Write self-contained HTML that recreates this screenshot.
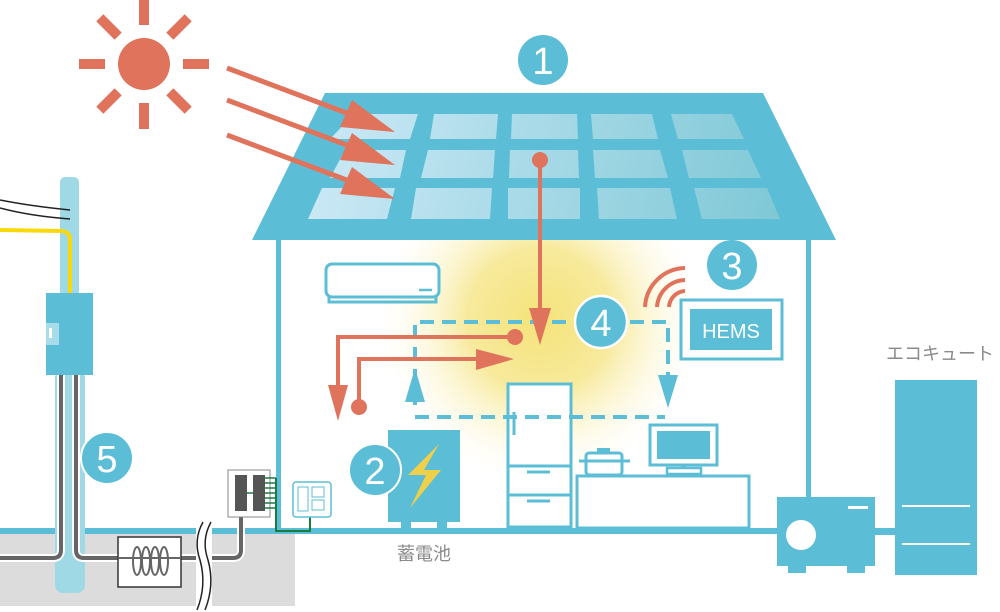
<!DOCTYPE html>
<html><head><meta charset="utf-8"><style>
html,body{margin:0;padding:0;background:#fff;}
svg{display:block;}
text{font-family:"Liberation Sans","Noto Sans CJK JP",sans-serif;}
</style></head><body>
<svg width="1000" height="612" viewBox="0 0 1000 612" xmlns="http://www.w3.org/2000/svg">
<defs>
<radialGradient id="glow" cx="540" cy="320" r="160" gradientUnits="userSpaceOnUse">
<stop offset="0" stop-color="#f5e37a"/>
<stop offset="0.45" stop-color="#f7ea9c"/>
<stop offset="1" stop-color="#fffbe8" stop-opacity="0"/>
</radialGradient>
<linearGradient id="cell" x1="300" y1="110" x2="780" y2="220" gradientUnits="userSpaceOnUse">
<stop offset="0" stop-color="#cfeaf7"/>
<stop offset="1" stop-color="#7fc8d6"/>
</linearGradient>
</defs>
<!-- ground -->
<rect x="0" y="534" width="295" height="72" fill="#dcdcdc"/>
<!-- glow -->
<circle cx="540" cy="320" r="165" fill="url(#glow)"/>
<!-- sun -->
<g fill="#df735c">
<circle cx="144" cy="64" r="26"/>
<rect x="139" y="0" width="10" height="25"/>
<rect x="139" y="103" width="10" height="26"/>
<rect x="79" y="59" width="26" height="10"/>
<rect x="183" y="59" width="26" height="10"/>
<rect x="96" y="22" width="26" height="10" transform="rotate(45 109 27)"/>
<rect x="166" y="22" width="26" height="10" transform="rotate(-45 179 27)"/>
<rect x="96" y="96" width="26" height="10" transform="rotate(-45 109 101)"/>
<rect x="166" y="96" width="26" height="10" transform="rotate(45 179 101)"/>
</g>
<!-- roof -->
<polygon points="325,93 763,93 836,240 252,240" fill="#5bbed6"/>
<g fill="url(#cell)">
<polygon points="354,114 418,114 410,139 330,139"/>
<polygon points="434,114 498,114 496,139 430,139"/>
<polygon points="512,114 577,114 578,139 511,139"/>
<polygon points="591,114 652,114 658,139 593,139"/>
<polygon points="671,114 732,114 744,139 678,139"/>
<polygon points="345,150 406,150 400,178 330,178"/>
<polygon points="428,150 495,150 493,178 421,178"/>
<polygon points="510,150 578,150 579,178 509,178"/>
<polygon points="593,150 660,150 668,178 595,178"/>
<polygon points="682,150 748,150 761,178 689,178"/>
<polygon points="322,188 395,188 387,219 308,219"/>
<polygon points="416,188 492,188 490,219 411,219"/>
<polygon points="508,188 580,188 580,219 508,219"/>
<polygon points="597,188 670,188 677,219 599,219"/>
<polygon points="694,188 767,188 780,219 702,219"/>
</g>
<!-- sun arrows -->
<g stroke="#df735c" stroke-width="5" fill="#df735c">
<line x1="227" y1="68" x2="360" y2="118"/>
<line x1="227" y1="100" x2="360" y2="150"/>
<line x1="227" y1="135" x2="360" y2="185"/>
<polygon stroke="none" points="395,132 340,127 352,100"/>
<polygon stroke="none" points="395,165 340,160 352,133"/>
<polygon stroke="none" points="395,199 340,194 352,167"/>
</g>
<!-- circle 1 -->
<circle cx="543" cy="60" r="25" fill="#5bbed6"/>
<text x="543" y="74" font-size="38" fill="#fff" text-anchor="middle">1</text>
<!-- walls -->
<rect x="276" y="240" width="5" height="290" fill="#5bbed6"/>
<rect x="806" y="240" width="5" height="258" fill="#5bbed6"/>
<rect x="0" y="528" width="780" height="6" fill="#5bbed6"/>
<!-- pole -->
<rect x="60" y="177" width="19" height="200" rx="5" fill="#a0d9e6"/>
<rect x="55" y="370" width="30" height="223" rx="8" fill="#a0d9e6"/>
<path d="M0,200 Q30,206 70,210 M0,208 Q30,216 70,219" stroke="#222" stroke-width="1.5" fill="none"/>
<path d="M0,230 L62,231 Q70,232 70,240 L70,293" stroke="#f9d90a" stroke-width="4" fill="none"/>
<rect x="46" y="293" width="47" height="82" fill="#5bbed6"/>
<rect x="46" y="323" width="13" height="22" fill="#a8dcea"/>
<rect x="49" y="328" width="3" height="10" fill="#fff"/>
<!-- cables -->
<g stroke="#fff" stroke-width="8" fill="none">
<path d="M61,375 L61,550 Q61,558 53,558 L0,558"/>
<path d="M76,375 L76,550 Q76,558 84,558 L233,558 Q241,558 241,550 L241,510"/>
</g>
<g stroke="#666" stroke-width="4" fill="none">
<path d="M61,375 L61,550 Q61,558 53,558 L0,558"/>
<path d="M76,375 L76,550 Q76,558 84,558 L233,558 Q241,558 241,550 L241,510"/>
</g>
<rect x="118" y="537" width="63" height="50" fill="#fff" stroke="#333" stroke-width="1.5"/>
<g stroke="#666" stroke-width="2" fill="none">
<line x1="118" y1="558" x2="181" y2="558"/>
<ellipse cx="137" cy="561" rx="4" ry="14"/><ellipse cx="146" cy="561" rx="4" ry="14"/>
<ellipse cx="155" cy="561" rx="4" ry="14"/><ellipse cx="164" cy="561" rx="4" ry="14"/>
</g>
<rect x="196" y="520" width="16" height="92" fill="#fff"/>
<path d="M203,522 Q193,540 200,560 Q207,585 197,610 M211,522 Q201,540 208,560 Q215,585 205,610" stroke="#222" stroke-width="1.5" fill="none"/>
<!-- breaker -->
<rect x="228" y="470" width="42" height="47" fill="#fff" stroke="#888" stroke-width="1"/>
<rect x="235" y="475" width="12" height="36" fill="#555"/>
<rect x="253" y="475" width="12" height="36" fill="#555"/>
<line x1="247" y1="493" x2="253" y2="493" stroke="#1a7a40" stroke-width="1.5"/>
<g stroke="#1a7a40" stroke-width="1.5">
<line x1="265" y1="478" x2="276" y2="478"/><line x1="265" y1="483" x2="276" y2="483"/>
<line x1="265" y1="488" x2="276" y2="488"/><line x1="265" y1="493" x2="276" y2="493"/>
<line x1="265" y1="498" x2="276" y2="498"/><line x1="265" y1="503" x2="276" y2="503"/>
<line x1="265" y1="508" x2="276" y2="508"/>
</g>
<path d="M276,478 L276,531 L310,531 L310,517" stroke="#1a7a40" stroke-width="2" fill="none"/>
<rect x="293" y="482" width="38" height="35" rx="3" fill="#fff" stroke="#5bbed6" stroke-width="1.5"/>
<rect x="298" y="487" width="10" height="24" fill="none" stroke="#5bbed6" stroke-width="1"/>
<rect x="312" y="487" width="12" height="10" fill="none" stroke="#5bbed6" stroke-width="1"/>
<rect x="312" y="500" width="12" height="10" fill="none" stroke="#5bbed6" stroke-width="1"/>
<!-- circle 5 -->
<circle cx="107" cy="458" r="26" fill="#5bbed6" stroke="#fff" stroke-width="2"/>
<text x="107" y="472" font-size="38" fill="#fff" text-anchor="middle">5</text>
<!-- AC -->
<rect x="326" y="264" width="113" height="33" rx="6" fill="#fff" stroke="#5bbed6" stroke-width="3"/>
<path d="M329,297 L329,302 L436,302 L436,297" fill="none" stroke="#5bbed6" stroke-width="3"/>
<line x1="419" y1="290" x2="432" y2="290" stroke="#5bbed6" stroke-width="2.5"/>
<!-- fridge -->
<rect x="508" y="384" width="63" height="143" fill="#fff" stroke="#5bbed6" stroke-width="3"/>
<line x1="508" y1="466" x2="571" y2="466" stroke="#5bbed6" stroke-width="3"/>
<line x1="508" y1="495" x2="571" y2="495" stroke="#5bbed6" stroke-width="3"/>
<line x1="514" y1="412" x2="514" y2="435" stroke="#5bbed6" stroke-width="3"/>
<line x1="527" y1="472" x2="550" y2="472" stroke="#5bbed6" stroke-width="3"/>
<line x1="527" y1="501" x2="550" y2="501" stroke="#5bbed6" stroke-width="3"/>
<!-- counter -->
<rect x="577" y="476" width="172" height="52" fill="#fff" stroke="#5bbed6" stroke-width="3"/>
<!-- pot -->
<rect x="586" y="453" width="36" height="22" rx="3" fill="#fff" stroke="#5bbed6" stroke-width="3"/>
<line x1="579" y1="461" x2="630" y2="461" stroke="#5bbed6" stroke-width="3"/>
<rect x="597" y="448" width="13" height="5" fill="#5bbed6"/>
<!-- TV -->
<rect x="650" y="425" width="67" height="40" fill="#fff" stroke="#5bbed6" stroke-width="3"/>
<rect x="657" y="431" width="53" height="28" fill="#5bbed6"/>
<rect x="681" y="465" width="5" height="5" fill="#5bbed6"/>
<rect x="667" y="468" width="34" height="6" fill="#fff" stroke="#5bbed6" stroke-width="2.5"/>
<!-- battery -->
<rect x="388" y="430" width="72" height="92" fill="#5bbed6"/>
<rect x="401" y="518" width="10" height="10" fill="#5bbed6"/>
<rect x="437" y="518" width="10" height="10" fill="#5bbed6"/>
<polygon points="439,444 408,475 426,475 410,508 441,470 424,470" fill="#eed04a"/>
<circle cx="375" cy="470" r="26" fill="#5bbed6" stroke="#fff" stroke-width="2"/>
<text x="375" y="484" font-size="38" fill="#fff" text-anchor="middle">2</text>
<text x="424" y="560" font-size="18" fill="#8a8a8a" text-anchor="middle">蓄電池</text>
<!-- dashed blue -->
<g stroke="#5bbed6" stroke-width="4" fill="none" stroke-dasharray="14,8">
<path d="M415,405 L415,322 L575,322"/>
<path d="M630,322 L668,322 L668,380"/>
<path d="M415,417 L665,417"/>
</g>
<polygon points="415,368 405,402 425,402" fill="#5bbed6"/>
<polygon points="668,408 658,375 678,375" fill="#5bbed6"/>
<!-- red arrows -->
<g stroke="#df735c" stroke-width="4" fill="none">
<line x1="540" y1="160" x2="540" y2="312"/>
<path d="M515,337 L338,337 L338,392"/>
<path d="M359,407 L359,359 L480,359"/>
</g>
<g fill="#df735c">
<circle cx="540" cy="160" r="8"/>
<circle cx="515" cy="337" r="8"/>
<circle cx="359" cy="407" r="8"/>
<polygon points="540,345 529,308 551,308"/>
<polygon points="338,421 328,385 348,385"/>
<polygon points="514,359 476,349 476,370"/>
</g>
<!-- circle 4 -->
<circle cx="601" cy="322" r="26" fill="#5bbed6" stroke="#fff" stroke-width="2.5"/>
<text x="601" y="336" font-size="38" fill="#fff" text-anchor="middle">4</text>
<!-- wifi -->
<g stroke="#df735c" stroke-width="4" fill="none">
<path d="M645,307 A41,41 0 0 1 685,268"/>
<path d="M657,307 A29,29 0 0 1 685,280"/>
<path d="M669,307 A17,17 0 0 1 685,291"/>
</g>
<!-- HEMS -->
<rect x="681" y="300" width="101" height="59" fill="#fff" stroke="#5bbed6" stroke-width="3"/>
<rect x="690" y="309" width="82" height="41" fill="#5bbed6"/>
<text x="731" y="338" font-size="20" fill="#fff" text-anchor="middle">HEMS</text>
<circle cx="732" cy="265" r="25" fill="#5bbed6"/>
<text x="732" y="279" font-size="38" fill="#fff" text-anchor="middle">3</text>
<!-- ecocute -->
<text x="940" y="360" font-size="18" fill="#8a8a8a" text-anchor="middle">エコキュート</text>
<rect x="875" y="528" width="22" height="7" fill="#5bbed6"/>
<rect x="895" y="380" width="82" height="195" fill="#5bbed6"/>
<rect x="902" y="505" width="68" height="2" fill="#fff"/>
<rect x="902" y="543" width="68" height="2" fill="#fff"/>
<rect x="777" y="497" width="98" height="69" fill="#5bbed6"/>
<rect x="788" y="564" width="18" height="9" fill="#5bbed6"/>
<rect x="847" y="564" width="18" height="9" fill="#5bbed6"/>
<circle cx="801" cy="535" r="15" fill="#fff"/>
<rect x="848" y="506" width="20" height="3" fill="#fff"/>
</svg>
</body></html>
